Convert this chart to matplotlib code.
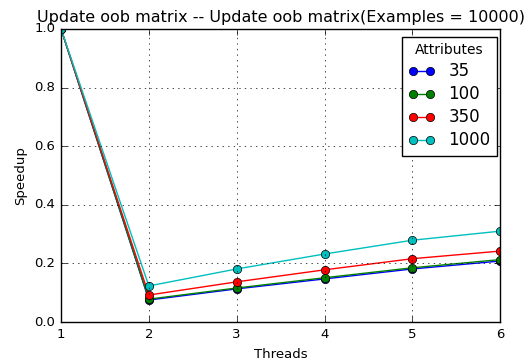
import matplotlib
matplotlib.use("Agg")
import matplotlib.pyplot as plt

threads = [1, 2, 3, 4, 5, 6]
labels = ["35", "100", "350", "1000"]
s35 = [1.0, 0.075, 0.113, 0.147, 0.181, 0.208]
s100 = [1.0, 0.078, 0.116, 0.151, 0.185, 0.213]
s350 = [1.0, 0.092, 0.137, 0.178, 0.216, 0.242]
s1000 = [1.0, 0.123, 0.181, 0.232, 0.279, 0.310]
colors = ["b", "g", "r", "c"]

plt.style.use("classic")
plt.rcParams["font.family"] = "DejaVu Sans"
fig = plt.figure(figsize=(5.26, 3.61), dpi=100, facecolor="white")
ax = fig.add_axes([0.116, 0.108, 0.835, 0.812])
for ys, lab, c in zip([s35, s100, s350, s1000], labels, colors):
    ax.plot(threads, ys, marker="o", color=c, label=lab, markersize=6)
ax.set_xlim(1, 6)
ax.set_ylim(0, 1.0)
ax.grid(True)
ax.tick_params(labelsize=9.5)
ax.set_xlabel("Threads", fontsize=9.5)
ax.set_ylabel("Speedup", fontsize=9.5)
ax.set_title("Update oob matrix -- Update oob matrix(Examples = 10000)", fontsize=11.5)
leg = ax.legend(title="Attributes", loc="upper right", fontsize=12, numpoints=2,
                labelspacing=0.3, handlelength=1.6, borderaxespad=0.0,
                bbox_to_anchor=(0.993, 0.973))
leg.get_title().set_fontsize(10)
fig.savefig("out.png", dpi=100, facecolor="white")
